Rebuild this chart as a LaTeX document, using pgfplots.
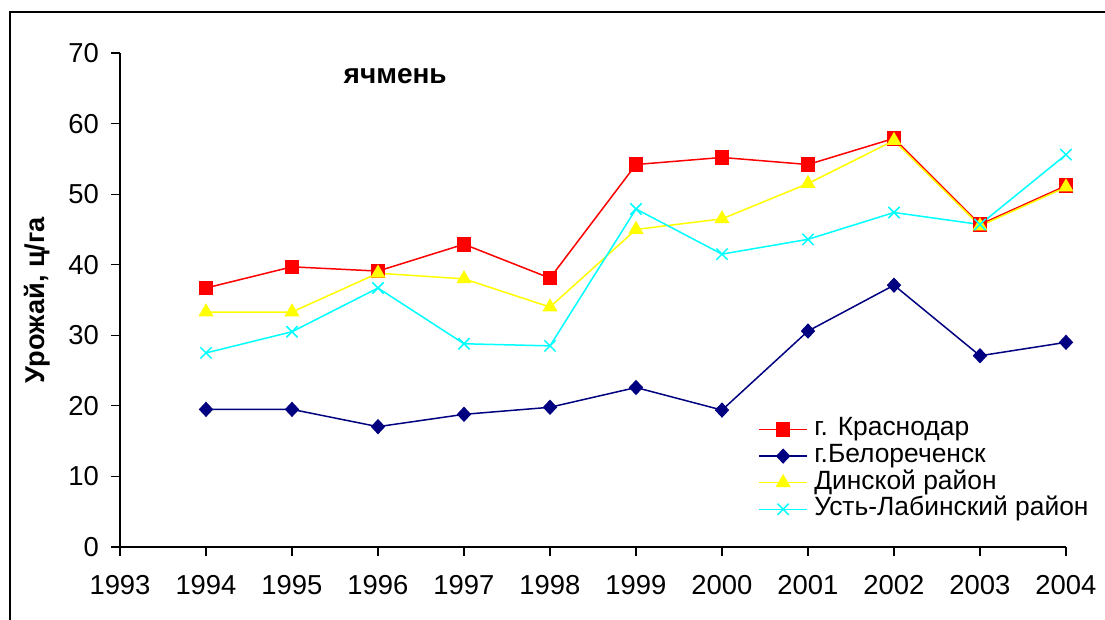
\documentclass[border=0pt]{standalone}
\usepackage{fontspec}
\setmainfont{Liberation Sans}
\usepackage{pgfplots}
\pgfplotsset{compat=1.18}
\definecolor{cred}{RGB}{255,0,0}
\definecolor{cnavy}{RGB}{0,0,128}
\definecolor{cyel}{RGB}{255,255,0}
\definecolor{ccyan}{RGB}{0,255,255}
\begin{document}
\begin{tikzpicture}
\useasboundingbox (0pt,0pt) rectangle (552.5pt,-310pt);
\draw[line width=1pt] (5pt,-315pt) -- (5pt,-6pt) -- (560pt,-6pt);
\begin{axis}[
  at={(60pt,-273.5pt)}, anchor=south west,
  width=473pt, height=247pt, scale only axis,
  xmin=1993, xmax=2004, ymin=0, ymax=70,
  axis lines*=left,
  xtick={1993,...,2004}, ytick={0,10,...,70},
  tick align=outside, tick pos=left,
  major tick length=4.5pt,
  axis line style={black, line width=0.6pt},
  tick style={black, line width=0.6pt},
  /pgf/number format/assume math mode=true,
  /pgf/number format/1000 sep={},
  ticklabel style={font=\fontsize{13.7}{16}\selectfont},
  xticklabel style={yshift=-6pt},
  yticklabel style={xshift=-2.5pt},
  ylabel={\textbf{Урожай, ц/га}},
  ylabel style={font=\fontsize{13.6}{16}\selectfont, at={(axis description cs:-0.0877,0.5)}, anchor=center},
  legend style={at={(0.6744,0.262)}, anchor=north west, draw=none, fill=none,
    font=\fontsize{13.2}{15}\selectfont, inner sep=0pt, row sep=1.8pt, column sep=3.2pt,
    nodes={inner sep=0pt, text height=9pt, text depth=2.5pt}},
  legend cell align=left,
  legend image code/.code={\draw[mark repeat=2,mark phase=2,#1] plot coordinates {(0pt,0pt)(12pt,0pt)(24pt,0pt)};},
  every axis plot/.append style={line width=0.75pt},
]
\addplot[cred, mark=square*, mark size=3.25pt, mark options={solid}] coordinates {
(1994,36.7) (1995,39.7) (1996,39.1) (1997,42.9) (1998,38.1) (1999,54.2) (2000,55.2) (2001,54.2) (2002,57.9) (2003,45.7) (2004,51.2)};
\addlegendentry{г. Краснодар}
\addplot[cnavy, mark=diamond*, mark size=3.3pt, mark options={solid, xscale=1.25}] coordinates {
(1994,19.5) (1995,19.5) (1996,17.05) (1997,18.8) (1998,19.8) (1999,22.6) (2000,19.4) (2001,30.6) (2002,37.1) (2003,27.1) (2004,29.0)};
\addlegendentry{г.Белореченск}
\addplot[cyel, mark=triangle*, mark size=3.6pt, mark options={solid}] coordinates {
(1994,33.3) (1995,33.3) (1996,38.8) (1997,38.0) (1998,34.0) (1999,45.0) (2000,46.5) (2001,51.5) (2002,57.6) (2003,45.5) (2004,51.0)};
\addlegendentry{Динской район}
\addplot[ccyan, mark=x, mark size=4pt, mark options={solid}] coordinates {
(1994,27.5) (1995,30.5) (1996,36.7) (1997,28.8) (1998,28.5) (1999,47.9) (2000,41.5) (2001,43.6) (2002,47.4) (2003,45.7) (2004,55.6)};
\addlegendentry{Усть-Лабинский район}
\node[font=\bfseries\fontsize{14}{16}\selectfont] at (axis cs:1996.2,66.7) {ячмень};
\end{axis}
\end{tikzpicture}
\end{document}
